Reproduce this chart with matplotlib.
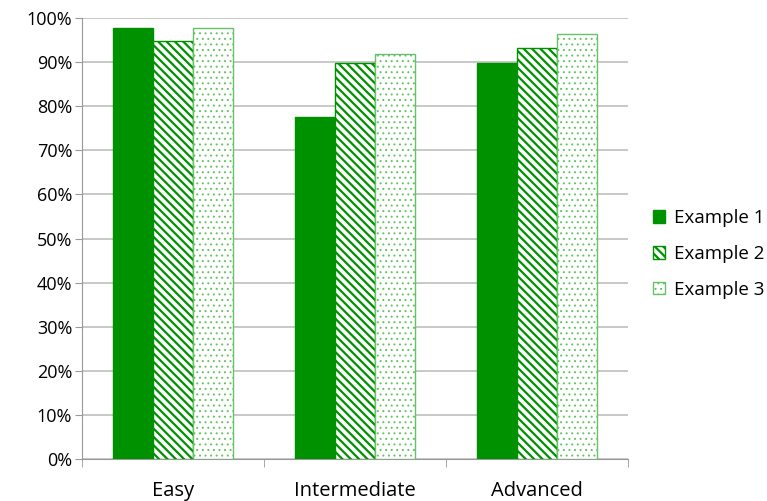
import numpy as np
import matplotlib.pyplot as plt
from matplotlib.ticker import FixedLocator, FuncFormatter

categories = ["Easy", "Intermediate", "Advanced"]
series_names = ["Example 1", "Example 2", "Example 3"]
example1 = [97.7, 77.6, 89.8]
example2 = [94.8, 89.8, 93.2]
example3 = [97.7, 91.8, 96.4]

green = "#009100"
light = "#66c266"
plt.rcParams["font.family"] = ["Open Sans", "DejaVu Sans"]
plt.rcParams["hatch.linewidth"] = 1.6

fig = plt.figure(figsize=(7.67, 5.01), dpi=100)
ax = fig.add_axes([82 / 767, 42 / 501, 546 / 767, 441 / 501])

x = np.arange(len(categories))
w = 0.22
styles = [
    dict(color=green, edgecolor=green),
    dict(facecolor="white", edgecolor=green, hatch="\\\\\\\\"),
    dict(facecolor="white", edgecolor=light, hatch="..."),
]
for i, (vals, name) in enumerate(zip([example1, example2, example3], series_names)):
    bars = ax.bar(x + (i - 1) * w, vals, w, label=name, linewidth=1.0, zorder=3, **styles[i])
    if i == 2:
        for b in bars:
            try:
                b.set_hatch_linewidth(0.7)
            except AttributeError:
                pass

ax.set_xlim(-0.5, 2.5)
ax.set_ylim(0, 100)
ax.yaxis.set_major_locator(FixedLocator(np.arange(0, 101, 10)))
ax.yaxis.set_major_formatter(FuncFormatter(lambda v, p: f"{v:.0f}%"))
ax.grid(axis="y", color="#bfbfbf", linewidth=1.2, zorder=0)
ax.set_axisbelow(True)

ax.set_xticks(x)
ax.set_xticklabels(categories)
ax.set_xticks([-0.5, 0.5, 1.5, 2.5], minor=True)
ax.tick_params(axis="x", which="major", length=0, pad=16, labelsize=14.5)
ax.tick_params(axis="x", which="minor", length=6, color="#999999")
ax.tick_params(axis="y", length=5, color="#999999", labelsize=13, pad=2)

for s in ["top", "right"]:
    ax.spines[s].set_visible(False)
for s in ["left", "bottom"]:
    ax.spines[s].set_color("#999999")

leg = ax.legend(loc="center left", bbox_to_anchor=(653 / 767, 1 - 254 / 501),
                bbox_transform=fig.transFigure, frameon=False, borderpad=0,
                borderaxespad=0, fontsize=13.5, handlelength=0.65,
                handleheight=0.65, handletextpad=0.45, labelspacing=0.95)
for h in leg.legend_handles[2:]:
    try:
        h.set_hatch_linewidth(0.7)
    except AttributeError:
        pass

fig.savefig("out.png", dpi=100)
